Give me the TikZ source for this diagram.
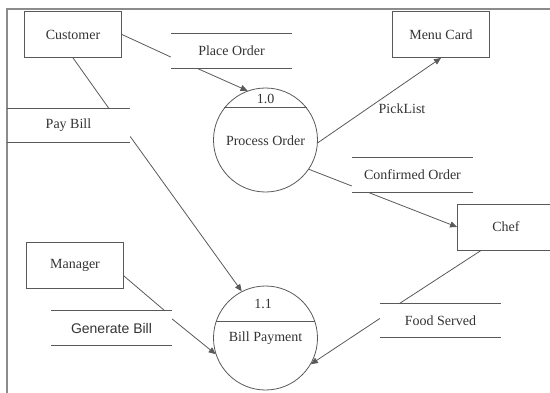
\documentclass[tikz,border=0pt]{standalone}
\usepackage{fontspec}
\setmainfont{Liberation Serif}
\newfontfamily\gbsans{Liberation Sans}
\usetikzlibrary{arrows.meta}
\definecolor{linegray}{gray}{0.35}
\definecolor{framegray}{gray}{0.55}
\begin{document}
\begin{tikzpicture}[x=1pt,y=-1pt,
  every node/.style={font=\fontsize{14}{16}\selectfont, text=black!80},
  entity/.style={draw=linegray, line width=0.9pt, rectangle, minimum width=97pt, minimum height=46pt, inner sep=0pt},
  store/.style={rectangle, minimum width=121pt, minimum height=34pt, inner sep=0pt},
  proc/.style={draw=linegray, line width=0.8pt, circle, minimum size=104pt, inner sep=0pt},
  flow/.style={draw=linegray, line width=0.8pt},
  arr/.style={flow, -{Triangle[length=7pt,width=6pt]}},
  storeline/.style={draw=linegray, line width=0.9pt}]
\useasboundingbox (0,0) rectangle (550,392);
\clip (0,0) rectangle (550,392);
% frame
\draw[framegray, line width=1.6pt] (7,400) -- (7,9) -- (560,9);
% entities
\node[entity] (cust) at (73,34.5) {Customer};
\node[entity] (menu) at (441,34.5) {Menu Card};
\node[entity] (chef) at (506,227) {Chef};
\node[entity] (mgr) at (75,265) {Manager};
% processes
\node[proc] (p1) at (265.5,140) {};
\node (p1id) at (265.5,99) {1.0};
\node (p1txt) at (265.5,141) {Process Order};
\draw[flow] (p1.142) -- (p1.38);
\node[proc] (p2) at (265.5,338) {};
\node (p2id) at (263,304) {1.1};
\node (p2txt) at (265.5,338) {Bill Payment};
\draw[flow] (p2.161) -- (p2.19);
% stores
\node[store] (po) at (231.5,51) {Place Order};
\node[store] (co) at (412.5,175) {Confirmed Order};
\node[store] (fs) at (440.5,320.5) {Food Served};
\node[store, minimum width=123pt] (pb) at (68.5,125.5) {Pay Bill};
\node[store, font=\gbsans\fontsize{14}{16}\selectfont] (gb) at (111.5,328) {Generate Bill};
\foreach \s in {po,co,fs,pb,gb}{
  \draw[storeline] (\s.north west) -- (\s.north east);
  \draw[storeline] (\s.south west) -- (\s.south east);
}
% flows
\draw[flow] (cust.east) -- ([yshift=-6pt]po.west);
\draw[arr] ([xshift=26pt]po.south west) -- (p1.110);
\draw[arr] (p1.-3) -- (menu.south);
\node (pick) at (402,109) {PickList};
\draw[flow] (p1.-34) -- ([yshift=-11pt]co.west);
\draw[arr] ([xshift=16pt]co.south west) -- (chef.west);
\draw[flow] ([xshift=24pt]chef.south west) -- ([xshift=20pt]fs.north west);
\draw[arr] ([yshift=2pt]fs.west) -- (p2.-30);
\draw[flow] ([xshift=49pt]cust.south west) -- ([xshift=102pt]pb.north west);
\draw[arr] ([yshift=-11pt]pb.east) -- (p2.117);
\draw[flow] ([yshift=-11pt]mgr.east) -- ([xshift=114pt]gb.north west);
\draw[arr] ([yshift=9pt]gb.east) -- (p2.198);
\end{tikzpicture}
\end{document}
